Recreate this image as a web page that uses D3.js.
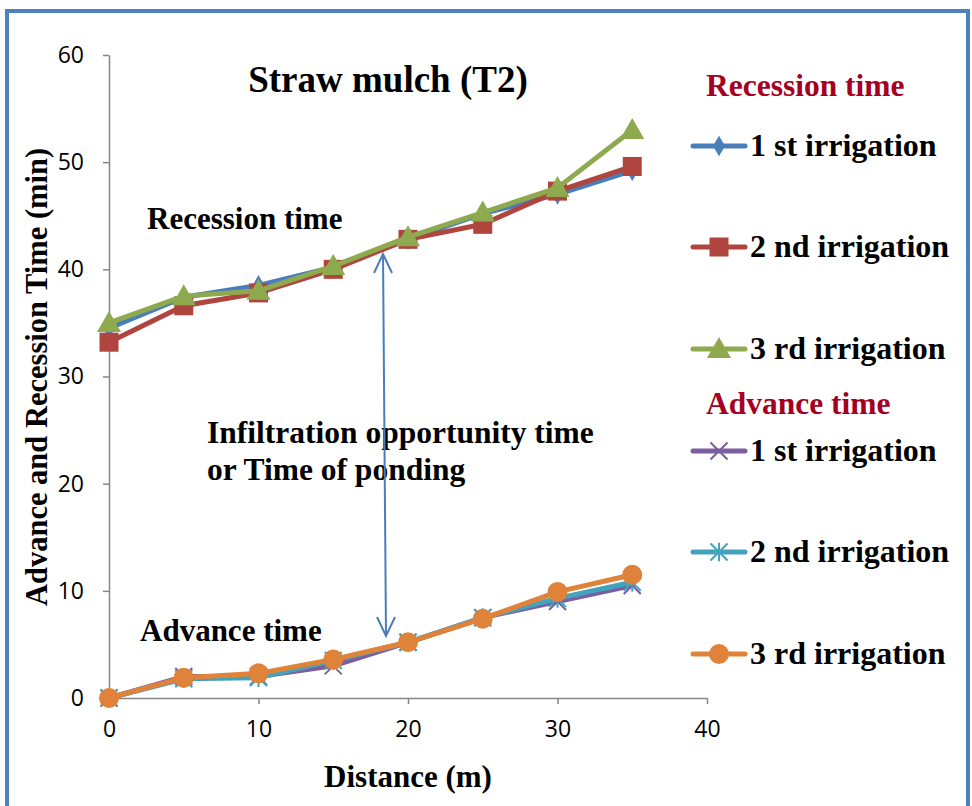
<!DOCTYPE html>
<html>
<head>
<meta charset="utf-8">
<script src="https://cdn.jsdelivr.net/npm/d3@7"></script>
<style>
  body { margin: 0; background: #fff; }
  svg { display: block; }
</style>
</head>
<body>
<svg id="chart" width="972" height="806"></svg>
<script>
// Distance along the furrow (m)
const distance = [0, 5, 10, 15, 20, 25, 30, 35];

// Recession time (min)
const recession1 = [34.5, 37.4, 38.5, 40.2, 42.8, 45.2, 47.0, 49.2];
const recession2 = [33.2, 36.6, 37.8, 40.0, 42.8, 44.2, 47.3, 49.6];
const recession3 = [35.0, 37.5, 38.0, 40.3, 43.0, 45.3, 47.6, 53.0];

// Advance time (min)
const advance1 = [0, 2.0, 2.0, 3.0, 5.2, 7.5, 9.0, 10.5];
const advance2 = [0, 1.8, 1.9, 3.5, 5.2, 7.5, 9.3, 10.8];
const advance3 = [0, 1.9, 2.3, 3.6, 5.2, 7.4, 9.9, 11.5];

const xTicks = [0, 10, 20, 30, 40];
const yTicks = [0, 10, 20, 30, 40, 50, 60];
const seriesNames = ["1 st irrigation", "2 nd irrigation", "3 rd irrigation"];

const svg = d3.select("#chart");
const serif = "'Liberation Serif', 'Times New Roman', serif";
const sans = "'Open Sans', 'Noto Sans', Arial, sans-serif";

// Frame
svg.append("rect")
  .attr("x", 7).attr("y", 11).attr("width", 961).attr("height", 820)
  .attr("fill", "none").attr("stroke", "#4F81BD").attr("stroke-width", 4);

const x = d3.scaleLinear().domain([0, 40]).range([109, 707]);
const y = d3.scaleLinear().domain([0, 60]).range([698, 55]);

// Axes
const xAxis = svg.append("g").attr("transform", `translate(0,${y(0)})`)
  .call(d3.axisBottom(x).tickValues(xTicks).tickSize(6).tickPadding(17).tickSizeOuter(0));
const yAxis = svg.append("g").attr("transform", `translate(${x(0)},0)`)
  .call(d3.axisLeft(y).tickValues(yTicks).tickSize(6).tickPadding(19).tickSizeOuter(0));
[xAxis, yAxis].forEach(g => {
  g.attr("font-size", null).attr("font-family", null);
  g.select(".domain").attr("stroke", "#868686").attr("stroke-width", 1.5);
  g.selectAll(".tick line").attr("stroke", "#868686").attr("stroke-width", 1.5);
  g.selectAll(".tick text").attr("fill", "#000").style("font-family", sans).style("font-size", "23px");
});

// Axis titles
svg.append("text").attr("x", 408).attr("y", 787).attr("text-anchor", "middle")
  .style("font-family", serif).style("font-weight", "bold").style("font-size", "31px")
  .text("Distance (m)");
svg.append("text").attr("transform", "translate(47,377) rotate(-90)").attr("text-anchor", "middle")
  .style("font-family", serif).style("font-weight", "bold").style("font-size", "30.5px")
  .text("Advance and Recession Time (min)");

// Series definitions
const series = [
  { values: recession1, color: "#4A7EBB", marker: "diamond" },
  { values: recession2, color: "#B0443F", marker: "square" },
  { values: recession3, color: "#8EAA4F", marker: "triangle" },
  { values: advance1, color: "#7B5EA0", marker: "x" },
  { values: advance2, color: "#43A3BC", marker: "star" },
  { values: advance3, color: "#E0833A", marker: "circle" }
];

function drawMarker(g, type, color, size) {
  if (type === "diamond") {
    g.append("path").attr("d", d3.symbol(d3.symbolDiamond, size * size * 0.55)()).attr("fill", color);
  } else if (type === "square") {
    g.append("rect").attr("x", -size / 2).attr("y", -size / 2).attr("width", size).attr("height", size).attr("fill", color);
  } else if (type === "triangle") {
    const h = size;
    g.append("path").attr("d", `M0,${-h * 0.6}L${h * 0.6},${h * 0.45}L${-h * 0.6},${h * 0.45}Z`).attr("fill", color);
  } else if (type === "circle") {
    g.append("circle").attr("r", size / 2).attr("fill", color);
  } else if (type === "x" || type === "star") {
    const r = size / 2;
    g.append("path").attr("d", `M${-r},${-r}L${r},${r}M${-r},${r}L${r},${-r}`)
      .attr("stroke", color).attr("stroke-width", 2);
    if (type === "star") {
      g.append("path").attr("d", `M0,${-r * 1.1}L0,${r * 1.1}`).attr("stroke", color).attr("stroke-width", 2);
    }
  }
}
const markerSize = m => m === "diamond" ? 15 : m === "square" ? 19 : (m === "x" || m === "star") ? 17 : 20;

const line = d3.line().x((d, i) => x(distance[i])).y(d => y(d));
const plot = svg.append("g");
series.forEach(s => {
  const g = plot.append("g");
  g.append("path").datum(s.values).attr("d", line)
    .attr("fill", "none").attr("stroke", s.color).attr("stroke-width", 5)
    .attr("stroke-linejoin", "round").attr("stroke-linecap", "round");
  s.values.forEach((v, i) => {
    const m = g.append("g").attr("transform", `translate(${x(distance[i])},${y(v)})`);
    drawMarker(m, s.marker, s.color, markerSize(s.marker));
  });
});

// Annotations
const bold = sel => sel.style("font-family", serif).style("font-weight", "bold").attr("fill", "#000");
bold(svg.append("text").attr("x", 388).attr("y", 92).attr("text-anchor", "middle").style("font-size", "37px"))
  .text("Straw mulch (T2)");
bold(svg.append("text").attr("x", 147).attr("y", 229).style("font-size", "31px")).text("Recession time");
bold(svg.append("text").attr("x", 207).attr("y", 443).style("font-size", "31.5px")).text("Infiltration opportunity time");
bold(svg.append("text").attr("x", 207).attr("y", 480).style("font-size", "31.5px")).text("or Time of ponding");
bold(svg.append("text").attr("x", 140).attr("y", 641).style("font-size", "31px")).text("Advance time");

// Double-headed arrow between the two curves
const ax1 = 383, ay1 = 254, ax2 = 386, ay2 = 636;
svg.append("line").attr("x1", ax1).attr("y1", ay1).attr("x2", ax2).attr("y2", ay2)
  .attr("stroke", "#4A7EBB").attr("stroke-width", 2);
svg.append("path").attr("d", `M${ax1 - 9},${ay1 + 19}L${ax1},${ay1}L${ax1 + 9},${ay1 + 19}`)
  .attr("fill", "none").attr("stroke", "#4A7EBB").attr("stroke-width", 2);
svg.append("path").attr("d", `M${ax2 - 9},${ay2 - 19}L${ax2},${ay2}L${ax2 + 9},${ay2 - 19}`)
  .attr("fill", "none").attr("stroke", "#4A7EBB").attr("stroke-width", 2);

// Legend
const legendGroups = [
  { title: "Recession time", titleY: 96, rows: [146, 247, 349], series: series.slice(0, 3) },
  { title: "Advance time", titleY: 414, rows: [451, 552, 654], series: series.slice(3) }
];
legendGroups.forEach(lg => {
  svg.append("text").attr("x", 706).attr("y", lg.titleY)
    .style("font-family", serif).style("font-weight", "bold").style("font-size", "31.5px")
    .attr("fill", "#A50021").text(lg.title);
  lg.series.forEach((s, i) => {
    const yy = lg.rows[i];
    svg.append("line").attr("x1", 693).attr("x2", 745).attr("y1", yy).attr("y2", yy)
      .attr("stroke", s.color).attr("stroke-width", 5).attr("stroke-linecap", "round");
    const m = svg.append("g").attr("transform", `translate(719,${yy})`);
    drawMarker(m, s.marker, s.color, markerSize(s.marker));
    bold(svg.append("text").attr("x", 750).attr("y", yy + 10).style("font-size", "32px")).text(seriesNames[i]);
  });
});
</script>
</body>
</html>
